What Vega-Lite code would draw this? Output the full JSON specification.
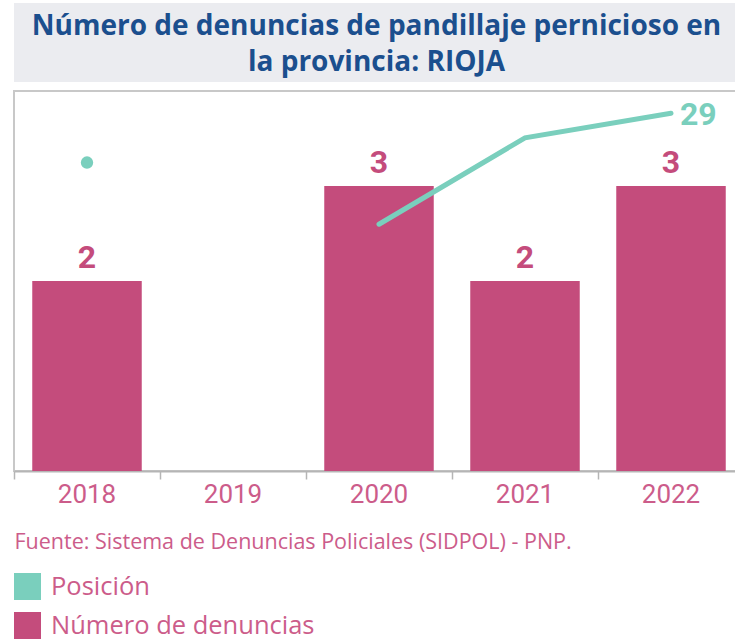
{
  "$schema": "https://vega.github.io/schema/vega-lite/v6.json",
  "background": "white",
  "padding": {"left": 12, "top": 3, "right": 0, "bottom": 0},
  "config": {
    "font": "Roboto",
    "view": {"stroke": null},
    "concat": {"spacing": 8}
  },
  "datasets": {
    "serie": [
      {"anio": "2018", "denuncias": 2, "posicion": 25},
      {"anio": "2019", "denuncias": null, "posicion": null},
      {"anio": "2020", "denuncias": 3, "posicion": 20},
      {"anio": "2021", "denuncias": 2, "posicion": 27},
      {"anio": "2022", "denuncias": 3, "posicion": 29}
    ]
  },
  "vconcat": [
    {
      "width": 725,
      "height": 79,
      "view": {"fill": "#EBECF0", "stroke": null},
      "data": {"values": [{"titulo": "Número de denuncias de pandillaje pernicioso en la provincia: RIOJA"}]},
      "mark": {
        "type": "text",
        "text": ["Número de denuncias de pandillaje pernicioso en", "la provincia: RIOJA"],
        "font": "Open Sans",
        "fontSize": 28,
        "fontWeight": "bold",
        "color": "#1B4F8E",
        "lineHeight": 36,
        "baseline": "middle",
        "align": "center",
        "dy": -16
      },
      "encoding": {}
    },
    {
      "width": 730,
      "height": 380,
      "view": {"stroke": "#C8C8C8", "strokeWidth": 2},
      "data": {"name": "serie"},
      "encoding": {
        "x": {
          "field": "anio",
          "type": "ordinal",
          "scale": {"paddingInner": 0, "paddingOuter": 0},
          "title": "Fuente: Sistema de Denuncias Policiales (SIDPOL) - PNP.",
          "axis": {
            "bandPosition": 0,
            "labelAngle": 0,
            "labelFont": "Roboto",
            "labelFontSize": 26,
            "labelColor": "#CC5C8A",
            "labelPadding": 2,
            "tickSize": 8,
            "tickColor": "#B5B5B5",
            "tickWidth": 1.5,
            "domainColor": "#B5B5B5",
            "domainWidth": 2,
            "titleFont": "Open Sans",
            "titleFontSize": 21.5,
            "titleFontWeight": "normal",
            "titleColor": "#CC5C8A",
            "titleAnchor": "start",
            "titleAlign": "left",
            "titlePadding": 24
          }
        }
      },
      "layer": [
        {
          "mark": {"type": "bar", "width": {"band": 0.75}},
          "encoding": {
            "y": {"field": "denuncias", "type": "quantitative", "scale": {"domain": [0, 4]}, "axis": null},
            "color": {
              "datum": "Número de denuncias",
              "type": "nominal",
              "scale": {"domain": ["Posición", "Número de denuncias"], "range": ["#7ACFBD", "#C44C7C"]},
              "legend": {
                "title": null,
                "orient": "bottom",
                "direction": "vertical",
                "symbolType": "square",
                "symbolSize": 729,
                "symbolStrokeWidth": 0,
                "labelFont": "Open Sans",
                "labelFontSize": 25.5,
                "labelColor": "#CC5C8A",
                "labelOffset": 10,
                "labelLimit": 0,
                "rowPadding": 12,
                "offset": 19
              }
            }
          }
        },
        {
          "mark": {"type": "text", "fontSize": 32, "fontWeight": "bold", "color": "#C44C7C", "baseline": "alphabetic", "dy": -13},
          "encoding": {
            "y": {"field": "denuncias", "type": "quantitative", "scale": {"domain": [0, 4]}, "axis": null},
            "text": {"field": "denuncias", "type": "quantitative"}
          }
        },
        {
          "layer": [
            {
              "mark": {"type": "line", "color": "#7ACFBD", "strokeWidth": 5, "strokeCap": "round", "invalid": "break-paths-show-domains"},
              "encoding": {
                "y": {"field": "posicion", "type": "quantitative", "scale": {"domain": [0, 30.8]}, "axis": null}
              }
            },
            {
              "transform": [{"filter": "datum.anio == '2018'"}],
              "mark": {"type": "circle", "size": 154, "opacity": 1},
              "encoding": {
                "y": {"field": "posicion", "type": "quantitative", "scale": {"domain": [0, 30.8]}, "axis": null},
                "color": {"datum": "Posición", "type": "nominal"}
              }
            },
            {
              "transform": [{"filter": "datum.anio == '2022'"}],
              "mark": {"type": "text", "fontSize": 32, "fontWeight": "bold", "color": "#7ACFBD", "align": "left", "baseline": "alphabetic", "dx": 9, "dy": 12},
              "encoding": {
                "y": {"field": "posicion", "type": "quantitative", "scale": {"domain": [0, 30.8]}, "axis": null},
                "text": {"field": "posicion", "type": "quantitative"}
              }
            }
          ]
        }
      ],
      "resolve": {"scale": {"y": "independent"}}
    }
  ]
}
